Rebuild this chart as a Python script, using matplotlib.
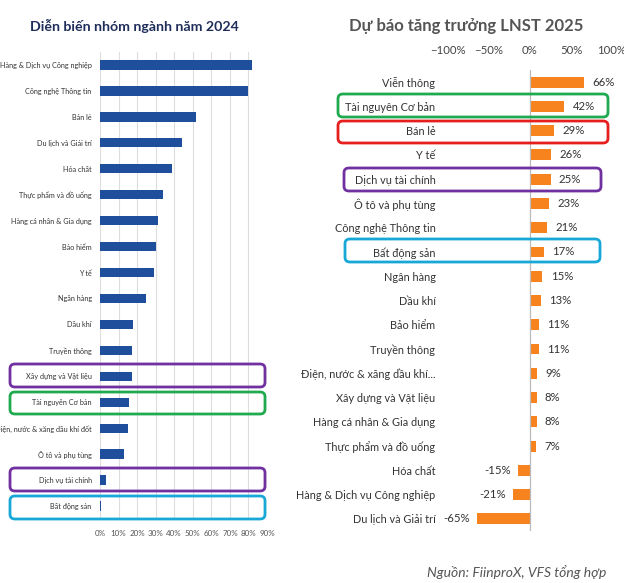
import numpy as np
import matplotlib.pyplot as plt
from matplotlib.patches import FancyBboxPatch
from matplotlib.ticker import PercentFormatter

plt.rcParams['font.family'] = ['Lato', 'DejaVu Sans']

# left panel: performance 2024 (%)
left_cats = ['Hàng & Dịch vụ Công nghiệp', 'Công nghệ Thông tin', 'Bán lẻ', 'Du lịch và Giải trí',
             'Hóa chất', 'Thực phẩm và đồ uống', 'Hàng cá nhân & Gia dụng', 'Bảo hiểm', 'Y tế',
             'Ngân hàng', 'Dầu khí', 'Truyền thông', 'Xây dựng và Vật liệu', 'Tài nguyên Cơ bản',
             'Điện, nước & xăng dầu khí đốt', 'Ô tô và phụ tùng', 'Dịch vụ tài chính', 'Bất động sản']
left_vals = [82, 80, 52, 44, 39, 34, 31, 30, 29, 25, 18, 17, 17, 15.5, 15, 13, 3, 0.4]

# right panel: forecast LNST 2025 (%)
right_cats = ['Viễn thông', 'Tài nguyên Cơ bản', 'Bán lẻ', 'Y tế', 'Dịch vụ tài chính',
              'Ô tô và phụ tùng', 'Công nghệ Thông tin', 'Bất động sản', 'Ngân hàng', 'Dầu khí',
              'Bảo hiểm', 'Truyền thông', 'Điện, nước & xăng dầu khí...', 'Xây dựng và Vật liệu',
              'Hàng cá nhân & Gia dụng', 'Thực phẩm và đồ uống', 'Hóa chất',
              'Hàng & Dịch vụ Công nghiệp', 'Du lịch và Giải trí']
right_vals = [66, 42, 29, 26, 25, 23, 21, 17, 15, 13, 11, 11, 9, 8, 8, 7, -15, -21, -65]

W, H = 624, 583
fig = plt.figure(figsize=(W / 100, H / 100), dpi=100)


def fx(px):
    return px / W


def fy(py):
    return 1 - py / H


# ---- left chart
axl = fig.add_axes([fx(100), fy(519), fx(267 - 100), (519 - 52) / H])
yl = np.arange(len(left_cats))
axl.barh(yl, left_vals, height=0.36, color='#1f4e9c')
axl.set_ylim(len(left_cats) - 0.5, -0.5)
axl.set_xlim(0, 90)
axl.set_xticks(np.arange(0, 91, 10))
axl.xaxis.set_major_formatter(PercentFormatter(decimals=0))
axl.set_yticks(yl)
axl.set_yticklabels(left_cats, fontsize=5.2, color='#333333')
axl.tick_params(axis='both', length=0, pad=6)
axl.tick_params(axis='x', labelsize=5.8, colors='#555555', pad=8)
axl.grid(axis='x', color='#dddddd', linewidth=0.8)
axl.set_axisbelow(True)
for s in axl.spines.values():
    s.set_visible(False)

# ---- right chart
axr = fig.add_axes([fx(448), fy(531), fx(612 - 448), (531 - 70) / H])
yr = np.arange(len(right_cats))
axr.barh(yr, right_vals, height=0.45, color='#f7831f')
axr.set_ylim(len(right_cats) - 0.5, -0.5)
axr.set_xlim(-100, 100)
axr.set_xticks([-100, -50, 0, 50, 100])
axr.xaxis.set_major_formatter(PercentFormatter(decimals=0))
axr.xaxis.tick_top()
axr.tick_params(axis='x', length=0, labelsize=8.2, colors='#444444', pad=10)
axr.set_yticks(yr)
axr.set_yticklabels(right_cats, fontsize=7.8, color='#333333')
axr.tick_params(axis='y', length=0, pad=9)
axr.axvline(0, color='#bbbbbb', linewidth=0.9)
for s in axr.spines.values():
    s.set_visible(False)
for y, v in zip(yr, right_vals):
    if v >= 0:
        axr.annotate(f'{v}%', (v, y), xytext=(6, 0), textcoords='offset points',
                     ha='left', va='center', fontsize=8.2, color='#333333')
    else:
        axr.annotate(f'{v}%', (v, y), xytext=(-5, 0), textcoords='offset points',
                     ha='right', va='center', fontsize=8.2, color='#333333')

# titles
fig.text(fx(134), fy(26), 'Diễn biến nhóm ngành năm 2024', ha='center', va='center',
         fontsize=10.2, fontweight='bold', color='#1f2d5a')
fig.text(fx(466), fy(26), 'Dự báo tăng trưởng LNST 2025', ha='center', va='center',
         fontsize=12, fontweight='bold', color='#555555')

# highlight boxes (figure pixels: x0, y0, x1, y1, colour)
boxes = [(10, 364, 265, 387, '#7030a0'), (10, 392, 265, 414, '#1faa50'),
         (10, 468, 265, 491, '#7030a0'), (10, 496, 265, 519, '#18a8d8'),
         (338, 94, 608, 117, '#1faa50'), (338, 121, 608, 143, '#e61e1e'),
         (344, 168, 601, 191, '#7030a0'), (345, 239, 600, 262, '#18a8d8')]
for x0, y0, x1, y1, c in boxes:
    fig.patches.append(FancyBboxPatch((fx(x0), fy(y1)), fx(x1 - x0), (y1 - y0) / H,
                                      boxstyle='round,pad=0,rounding_size=0.008',
                                      transform=fig.transFigure, fill=False,
                                      edgecolor=c, linewidth=2))

fig.text(fx(606), fy(572), 'Nguồn: FiinproX, VFS tổng hợp', ha='right', va='center',
         fontsize=10, style='italic', color='#555555')

fig.savefig('out.png', dpi=100)
